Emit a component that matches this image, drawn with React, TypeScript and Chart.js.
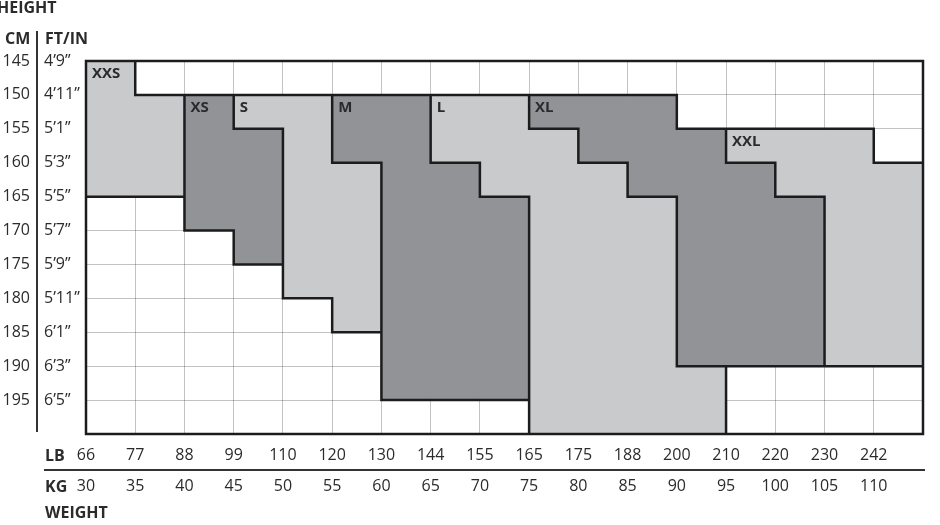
import React, { useEffect, useRef } from 'react';
import { Chart, registerables } from 'chart.js';

Chart.register(...registerables);

// ---------- data ----------
const lbLabels = ['66', '77', '88', '99', '110', '120', '130', '144', '155', '165', '175', '188', '200', '210', '220', '230', '242'];
const kgLabels = ['30', '35', '40', '45', '50', '55', '60', '65', '70', '75', '80', '85', '90', '95', '100', '105', '110'];
const cmLabels = ['145', '150', '155', '160', '165', '170', '175', '180', '185', '190', '195'];
const ftLabels = ['4’9”', '4’11”', '5’1”', '5’3”', '5’5”', '5’7”', '5’9”', '5’11”', '6’1”', '6’3”', '6’5”'];

type R = [number, number] | null;
const N = null;
// each entry: height range [from cm, to cm] covered by the size in that weight column
const xxs: R[] = [[145, 165], [150, 165], N, N, N, N, N, N, N, N, N, N, N, N, N, N, N];
const xs: R[] = [N, N, [150, 170], [155, 175], N, N, N, N, N, N, N, N, N, N, N, N, N];
const s: R[] = [N, N, N, [150, 155], [150, 180], [160, 185], N, N, N, N, N, N, N, N, N, N, N];
const m: R[] = [N, N, N, N, N, [150, 160], [150, 195], [160, 195], [165, 195], N, N, N, N, N, N, N, N];
const l: R[] = [N, N, N, N, N, N, N, [150, 160], [150, 165], [155, 200], [160, 200], [165, 200], [190, 200], N, N, N, N];
const xl: R[] = [N, N, N, N, N, N, N, N, N, [150, 155], [150, 160], [150, 165], [155, 190], [160, 190], [165, 190], N, N];
const xxl: R[] = [N, N, N, N, N, N, N, N, N, N, N, N, N, [155, 160], [155, 165], [155, 190], [160, 190]];

const sizeNames = ['XXS', 'XS', 'S', 'M', 'L', 'XL', 'XXL'];
const sizeData = [xxs, xs, s, m, l, xl, xxl];

const LIGHT = '#c9cacc';
const DARK = '#929396';
const GRID = 'rgba(0,0,0,0.24)';
const TEXT = '#2b2b2b';
const FONT = "'Open Sans', 'Noto Sans', sans-serif";

const CM_MIN = 145;
const CM_MAX = 200;
const STEP = 5;

const overlayPlugin = {
  id: 'sizeOverlay',
  afterDraw(chart: any) {
    const { ctx } = chart;
    const xs_ = chart.scales.lb;
    const ys_ = chart.scales.cm;
    const nCols = lbLabels.length;
    const nRows = (CM_MAX - CM_MIN) / STEP;
    const owner: number[][] = [];
    for (let c = 0; c < nCols; c++) {
      owner.push(new Array(nRows).fill(-1));
    }
    sizeData.forEach((arr, k) => {
      arr.forEach((rg, c) => {
        if (!rg) return;
        for (let v = rg[0]; v < rg[1]; v += STEP) owner[c][(v - CM_MIN) / STEP] = k;
      });
    });
    const get = (c: number, r: number) => (c < 0 || c >= nCols || r < 0 || r >= nRows ? -2 : owner[c][r]);
    const px = (c: number) => xs_.getPixelForValue(c);
    const py = (r: number) => ys_.getPixelForValue(CM_MIN + r * STEP);

    ctx.save();
    ctx.strokeStyle = '#1c1c1c';
    ctx.lineWidth = 2.5;
    ctx.lineCap = 'square';
    ctx.beginPath();
    for (let c = 0; c <= nCols; c++) {
      for (let r = 0; r < nRows; r++) {
        if (get(c - 1, r) !== get(c, r)) {
          ctx.moveTo(px(c), py(r));
          ctx.lineTo(px(c), py(r + 1));
        }
      }
    }
    for (let r = 0; r <= nRows; r++) {
      for (let c = 0; c < nCols; c++) {
        if (get(c, r - 1) !== get(c, r)) {
          ctx.moveTo(px(c), py(r));
          ctx.lineTo(px(c + 1), py(r));
        }
      }
    }
    ctx.stroke();

    // size names
    ctx.fillStyle = TEXT;
    ctx.font = `bold 15px ${FONT}`;
    ctx.textBaseline = 'middle';
    ctx.textAlign = 'left';
    sizeData.forEach((arr, k) => {
      const c = arr.findIndex((x) => x !== null);
      const rg = arr[c] as [number, number];
      ctx.fillText(sizeNames[k], px(c) + 6, ys_.getPixelForValue(rg[0]) + 13);
    });

    // headers
    ctx.font = `bold 16px ${FONT}`;
    ctx.fillText('HEIGHT', -3, 8);
    ctx.fillText('CM', 5, 39);
    ctx.fillText('FT/IN', 45, 39);
    ctx.fillText('LB', 45, 456);
    ctx.fillText('KG', 45, 487);
    ctx.fillText('WEIGHT', 45, 513);

    ctx.strokeStyle = '#333';
    ctx.lineWidth = 2;
    ctx.lineCap = 'butt';
    ctx.beginPath();
    ctx.moveTo(37, 31);
    ctx.lineTo(37, 432);
    ctx.moveTo(44, 470);
    ctx.lineTo(925, 470);
    ctx.stroke();
    ctx.restore();
  },
};

export default function App() {
  const ref = useRef<HTMLCanvasElement>(null);
  useEffect(() => {
    const tickFont = { family: FONT, size: 16 };
    const chart = new Chart(ref.current as HTMLCanvasElement, {
      type: 'bar',
      data: {
        labels: lbLabels,
        datasets: sizeData.map((arr, k) => ({
          label: sizeNames[k],
          data: arr as any,
          backgroundColor: k % 2 === 0 ? LIGHT : DARK,
          borderWidth: 0,
          barPercentage: 1,
          categoryPercentage: 1,
          grouped: false,
          xAxisID: 'cat',
          yAxisID: 'cm',
        })),
      },
      options: {
        responsive: false,
        animation: false,
        layout: { padding: { top: 61, right: 17, left: 0, bottom: 0 } },
        plugins: { legend: { display: false }, tooltip: { enabled: false } },
        scales: {
          cat: { type: 'category', display: false, offset: true, grid: { display: false } },
          lb: {
            type: 'linear', position: 'bottom', min: 0, max: lbLabels.length, weight: 0, z: 1,
            offset: false,
            grid: { color: GRID, lineWidth: 1, drawTicks: false, offset: false },
            border: { display: false },
            ticks: {
              stepSize: 1, autoSkip: false, maxRotation: 0, padding: 12, color: TEXT, font: tickFont,
              callback: (v: any) => lbLabels[v] ?? '',
            },
            afterFit: (sc: any) => { sc.height = 36; },
          },
          kg: {
            type: 'linear', position: 'bottom', min: 0, max: kgLabels.length, weight: 1,
            offset: false,
            grid: { display: false, drawTicks: false, offset: false },
            border: { display: false },
            ticks: {
              stepSize: 1, autoSkip: false, maxRotation: 0, padding: 7, color: TEXT, font: tickFont,
              callback: (v: any) => kgLabels[v] ?? '',
            },
            afterFit: (sc: any) => { sc.height = 55; },
          },
          ft: {
            type: 'linear', position: 'left', min: CM_MIN, max: CM_MAX, reverse: true, weight: 0, z: 1,
            grid: { color: GRID, lineWidth: 1, drawTicks: false },
            border: { display: false },
            ticks: {
              stepSize: STEP, autoSkip: false, crossAlign: 'far', padding: 0, color: TEXT, font: tickFont,
              callback: (v: any) => ftLabels[Math.round((v - CM_MIN) / STEP)] ?? '',
            },
            afterFit: (sc: any) => { sc.width = 42; },
          },
          cm: {
            type: 'linear', position: 'left', min: CM_MIN, max: CM_MAX, reverse: true, weight: 1,
            grid: { display: false, drawTicks: false },
            border: { display: false },
            ticks: {
              stepSize: STEP, autoSkip: false, padding: 14, color: TEXT, font: tickFont,
              callback: (v: any) => cmLabels[Math.round((v - CM_MIN) / STEP)] ?? '',
            },
            afterFit: (sc: any) => { sc.width = 44; },
          },
        },
      } as any,
      plugins: [overlayPlugin],
    });
    return () => chart.destroy();
  }, []);
  return (
    <div style={{ position: 'absolute', left: 0, top: 0, width: 940, height: 525, background: '#fff' }}>
      <canvas ref={ref} width={940} height={525} style={{ display: 'block' }} />
    </div>
  );
}
